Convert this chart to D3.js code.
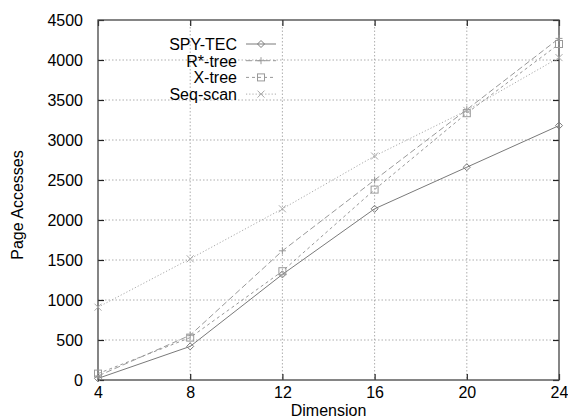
<!DOCTYPE html>
<html>
<head>
<meta charset="utf-8">
<script src="https://cdn.jsdelivr.net/npm/d3@7"></script>
<style>
  html, body { margin: 0; padding: 0; background: #fff; }
  svg text { font-family: "Liberation Sans", Arial, Helvetica, sans-serif; fill: #000; }
</style>
</head>
<body>
<svg id="chart" width="568" height="419"></svg>
<script>
// Page accesses versus dimensionality for four index methods
const dimensions = [4, 8, 12, 16, 20, 24];
const spyTec  = [20, 420, 1320, 2140, 2660, 3180];
const rStar   = [50, 560, 1615, 2500, 3380, 4270];
const xTree   = [80, 530, 1360, 2380, 3335, 4200];
const seqScan = [910, 1515, 2140, 2800, 3370, 4030];
const seriesNames = ["SPY-TEC", "R*-tree", "X-tree", "Seq-scan"];
const xTicks = [4, 8, 12, 16, 20, 24];
const yTicks = [0, 500, 1000, 1500, 2000, 2500, 3000, 3500, 4000, 4500];

const svg = d3.select("#chart");
const pLeft = 98, pRight = 559, pTop = 20, pBottom = 380;

const x = d3.scaleLinear().domain([4, 24]).range([pLeft, pRight]);
const y = d3.scaleLinear().domain([0, 4500]).range([pBottom, pTop]);

// dotted grid
const grid = svg.append("g").attr("stroke", "#999").attr("stroke-width", 0.8)
  .attr("stroke-dasharray", "1.5,2");
xTicks.slice(1, -1).forEach(t => grid.append("line")
  .attr("x1", x(t)).attr("x2", x(t)).attr("y1", pTop).attr("y2", pBottom));
yTicks.slice(1, -1).forEach(t => grid.append("line")
  .attr("x1", pLeft).attr("x2", pRight).attr("y1", y(t)).attr("y2", y(t)));

// axes (ticks drawn inward, mirrored on the opposite side)
const fs = 16;
const fmt = d3.format("d");
const axL = svg.append("g").attr("transform", `translate(${pLeft},0)`)
  .call(d3.axisLeft(y).tickValues(yTicks).tickFormat(fmt).tickSize(-6).tickPadding(15));
const axR = svg.append("g").attr("transform", `translate(${pRight},0)`)
  .call(d3.axisRight(y).tickValues(yTicks).tickSize(-6).tickFormat(""));
const axB = svg.append("g").attr("transform", `translate(0,${pBottom})`)
  .call(d3.axisBottom(x).tickValues(xTicks).tickFormat(fmt).tickSize(-6).tickPadding(7));
const axT = svg.append("g").attr("transform", `translate(0,${pTop})`)
  .call(d3.axisTop(x).tickValues(xTicks).tickSize(-6).tickFormat(""));
[axL, axR, axB, axT].forEach(a => {
  a.attr("font-size", fs).attr("font-family", "Liberation Sans, Arial, sans-serif");
  a.select(".domain").remove();
  a.selectAll(".tick line").attr("stroke", "#222").attr("stroke-width", 1.2);
  a.selectAll("text").attr("font-size", fs).attr("fill", "#000");
});
svg.append("rect").attr("x", pLeft).attr("y", pTop)
  .attr("width", pRight - pLeft).attr("height", pBottom - pTop)
  .attr("fill", "none").attr("stroke", "#444").attr("stroke-width", 1.3);

// axis titles
svg.append("text").attr("x", (pLeft + pRight) / 2).attr("y", 416)
  .attr("text-anchor", "middle").attr("font-size", fs).text("Dimension");
svg.append("text").attr("transform", "translate(23,205) rotate(-90)")
  .attr("text-anchor", "middle").attr("font-size", fs).text("Page Accesses");

// series
const styles = [
  { vals: spyTec,  color: "#7a7a7a", dash: null,    marker: "diamond" },
  { vals: rStar,   color: "#999",    dash: "6,3",   marker: "plus" },
  { vals: xTree,   color: "#999",    dash: "3,3",   marker: "square" },
  { vals: seqScan, color: "#aaa",    dash: "1.2,2", marker: "cross" }
];
const line = d3.line().x(d => x(d[0])).y(d => y(d[1]));

function drawMarker(g, kind, cx, cy, color) {
  const s = 3.5;
  if (kind === "diamond") {
    g.append("path").attr("d", `M${cx},${cy - s}L${cx + s},${cy}L${cx},${cy + s}L${cx - s},${cy}Z`)
      .attr("fill", "none").attr("stroke", color).attr("stroke-width", 1);
  } else if (kind === "plus") {
    g.append("path").attr("d", `M${cx - s},${cy}H${cx + s}M${cx},${cy - s}V${cy + s}`)
      .attr("stroke", color).attr("stroke-width", 1);
  } else if (kind === "square") {
    g.append("rect").attr("x", cx - s).attr("y", cy - s).attr("width", 2 * s).attr("height", 2 * s)
      .attr("fill", "none").attr("stroke", color).attr("stroke-width", 1);
  } else {
    g.append("path").attr("d", `M${cx - s},${cy - s}L${cx + s},${cy + s}M${cx - s},${cy + s}L${cx + s},${cy - s}`)
      .attr("stroke", color).attr("stroke-width", 1);
  }
}

styles.forEach(st => {
  const pts = dimensions.map((d, i) => [d, st.vals[i]]);
  const g = svg.append("g");
  g.append("path").attr("d", line(pts)).attr("fill", "none")
    .attr("stroke", st.color).attr("stroke-width", 1)
    .attr("stroke-dasharray", st.dash);
  pts.forEach(p => drawMarker(g, st.marker, x(p[0]), y(p[1]), st.color));
});

// legend
const legend = svg.append("g");
seriesNames.forEach((name, i) => {
  const ly = 44 + i * 16.7;
  legend.append("text").attr("x", 237).attr("y", ly + 6).attr("text-anchor", "end")
    .attr("font-size", fs).text(name);
  const st = styles[i];
  legend.append("line").attr("x1", 246).attr("x2", 276).attr("y1", ly).attr("y2", ly)
    .attr("stroke", st.color).attr("stroke-width", 1).attr("stroke-dasharray", st.dash);
  drawMarker(legend, st.marker, 261, ly, st.color);
});
</script>
</body>
</html>
